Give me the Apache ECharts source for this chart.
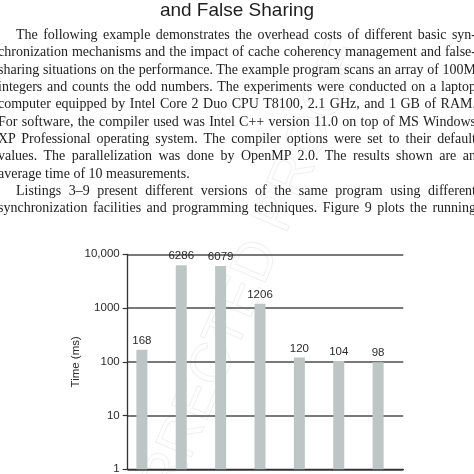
<!DOCTYPE html>
<html>
<head>
<meta charset="utf-8">
<script src="https://cdn.jsdelivr.net/npm/echarts@6/dist/echarts.min.js"></script>
<style>
  html, body { margin: 0; padding: 0; background: #fff; }
  #page { position: relative; width: 474px; height: 474px; overflow: hidden; }
  #main { position: absolute; left: 0; top: 0; width: 474px; height: 474px; }
  #title { position: absolute; left: 0; width: 474px; top: 0; text-align: center;
           font: 19px "Liberation Sans", Arial, sans-serif; line-height: 19px; color: #1e1e1e; }
  #body { position: absolute; left: -2px; width: 478px; top: 26.2px;
          font: 14px "Liberation Serif", "Times New Roman", serif; line-height: 17.3px; color: #222; }
  #body div { white-space: nowrap; text-align: justify; text-align-last: justify; }
  #body div.last { text-align-last: left; }
  #body div.ind { padding-left: 18px; }
</style>
</head>
<body>
<div id="page">
  <div id="main"></div>
  <div id="title">and False Sharing</div>
  <div id="body">
    <div class="ind">The following example demonstrates the overhead costs of different basic syn-</div>
    <div>chronization mechanisms and the impact of cache coherency management and false-</div>
    <div>sharing situations on the performance. The example program scans an array of 100M</div>
    <div>integers and counts the odd numbers. The experiments were conducted on a laptop</div>
    <div>computer equipped by Intel Core 2 Duo CPU T8100, 2.1 GHz, and 1 GB of RAM.</div>
    <div>For software, the compiler used was Intel C++ version 11.0 on top of MS Windows</div>
    <div>XP Professional operating system. The compiler options were set to their default</div>
    <div>values. The parallelization was done by OpenMP 2.0. The results shown are an</div>
    <div class="last">average time of 10 measurements.</div>
    <div class="ind">Listings 3–9 present different versions of the same program using different</div>
    <div>synchronization facilities and programming techniques. Figure 9 plots the running</div>
  </div>
</div>
<script>
var listings = ['Listing 3', 'Listing 4', 'Listing 5', 'Listing 6', 'Listing 7', 'Listing 8', 'Listing 9'];
var timeMs = [168, 6286, 6079, 1206, 120, 104, 98];

var chart = echarts.init(document.getElementById('main'));

var option = {
    animation: false,
    grid: {
        left: 127.7, right: 70.7, top: 254.3, bottom: 4.7,
        outerBoundsMode: 'none'
    },
    graphic: [{
        type: 'text',
        z: -10,
        x: 222, y: 345,
        rotation: 67 * Math.PI / 180,
        style: {
            text: 'UNCORRECTED PROOF',
            font: '56px "Liberation Sans", sans-serif',
            align: 'center',
            verticalAlign: 'middle',
            fill: 'rgba(0,0,0,0)',
            stroke: '#f0f0f0',
            lineWidth: 1
        }
    }],
    xAxis: {
        type: 'category',
        data: listings,
        axisLine: { lineStyle: { color: '#333', width: 1.3 } },
        axisTick: { length: 5, lineStyle: { color: '#333', width: 1.2 } },
        axisLabel: { show: false }
    },
    yAxis: {
        type: 'log',
        logBase: 10,
        min: 1,
        max: 10000,
        name: 'Time (ms)',
        nameLocation: 'middle',
        nameGap: 46,
        nameMoveOverlap: false,
        nameTextStyle: { color: '#2b2b2b', fontSize: 11.5, fontFamily: 'Liberation Sans' },
        axisLine: { show: true, lineStyle: { color: '#333', width: 1.3 } },
        axisTick: { show: true, length: 5, lineStyle: { color: '#333', width: 1.2 } },
        axisLabel: {
            color: '#2b2b2b', fontSize: 11.5, fontFamily: 'Liberation Sans', margin: 8,
            formatter: function (v) {
                v = Math.round(v);
                return v === 10000 ? '10,000' : String(v);
            }
        },
        splitLine: { lineStyle: { color: '#4d4d4d', width: 1.5 } }
    },
    series: [
        {
            name: 'Time',
            type: 'bar',
            data: timeMs,
            barWidth: 11,
            barGap: '0%',
            itemStyle: { color: '#bdc6c4' },
            label: {
                show: true, position: 'top', distance: 3,
                color: '#2b2b2b', fontSize: 11.5, fontFamily: 'Liberation Sans'
            }
        },
        {
            name: 'spacer',
            type: 'bar',
            data: [],
            barWidth: 11,
            barGap: '0%'
        }
    ]
};
chart.setOption(option);
</script>
</body>
</html>
